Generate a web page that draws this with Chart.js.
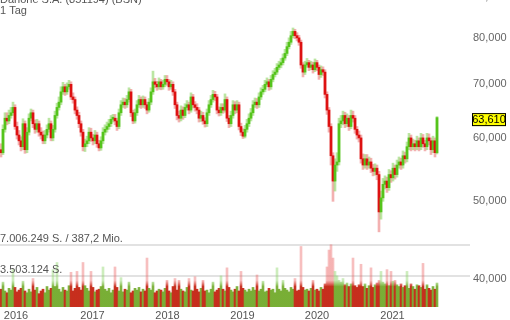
<!DOCTYPE html>
<html lang="de">
<head>
    <meta charset="UTF-8">
    <title>Danone S.A.</title>
    <script src="https://cdn.jsdelivr.net/npm/chart.js"></script>
    <style>
        body {
            margin: 0;
            background: #fff;
        }
    </style>
</head>
<body>
    <canvas id="myChart" width="510" height="320"></canvas>

    <script>
        // Schlusskurse (EUR), ca. alle 10 Tage
        const closes = [
            57.5, 61.5, 63.5, 63, 64, 64.5, 65.5, 62, 60.5, 59.5,
            58.5, 62.5, 58, 61, 63.5, 64.5, 62.5, 61.5, 62.5, 61,
            60.5, 59.5, 60.5, 61.5, 62.5, 60, 61.5, 64, 65.5, 66.5,
            68.5, 69.5, 68.5, 69.5, 70, 67.5, 67, 65, 64, 62.5,
            61, 58.5, 59, 59.5, 61, 60, 59.5, 60.5, 59, 58.3,
            59.5, 61, 61.5, 62, 62.5, 63.3, 63.5, 63, 62, 64.5,
            66, 66.5, 66, 67, 68.5, 64.5, 63, 64.5, 66, 67,
            66, 67, 66, 65, 66.5, 68.5, 70.5, 70, 69.5, 70.5,
            69.5, 70, 71, 70.5, 69.5, 70, 68.5, 66, 64, 63.5,
            65, 64, 65.5, 66, 65, 67.5, 66, 65.5, 65, 63.5,
            64, 63, 62.5, 64.5, 66, 67, 68, 67.5, 65, 64.5,
            65.5, 65, 67, 63.5, 62.5, 64, 66, 65, 66, 62,
            61, 60.3, 61.5, 62.5, 63.5, 64.5, 66, 66.5, 66, 67.5,
            68.5, 69, 70, 70.5, 69.5, 71, 72, 72.5, 73.5, 74,
            74.5, 75.5, 76.5, 78, 79, 80.5, 81.5, 80.5, 80, 79,
            74, 72.5, 74, 74.5, 73.5, 74, 73, 74.5, 73.5, 72,
            73, 72.5, 68, 65, 62, 57, 53, 55.5, 56, 62.5,
            63, 64, 62.5, 63.5, 62, 64, 63.5, 61.5, 60.5, 60,
            56.5, 55.5, 56.5, 55.5, 56, 55, 54.5, 55, 54, 48.5,
            50.5, 52.5, 53, 52, 54, 53.5, 55, 54, 55.5, 56,
            55.5, 57, 56.5, 58.5, 60, 58.5, 59, 58.5, 59.5, 58.5,
            60, 59, 58.5, 60, 59.5, 58, 59.5, 57.5, 63.61
        ];
        const firstOpen = 58;

        const highs = [
            59, 62.3, 64.5, 64.5, 65, 65.5, 66.5, 66, 62.8, 61.3,
            60.2, 63.4, 63, 61.8, 64.3, 65.2, 65, 63.2, 63.3, 63,
            61.8, 61.2, 61.3, 62.3, 63.5, 63, 62.2, 64.8, 66.3, 67.5,
            69.5, 70.4, 70, 70.3, 70.8, 70.5, 68.3, 67.5, 65.6, 64.6,
            63, 61.5, 59.8, 60.3, 61.8, 61.7, 60.6, 61.3, 61, 59.6,
            60.2, 61.8, 62.3, 62.8, 63.3, 64, 64.2, 64.2, 63.5, 65.2,
            66.8, 67.3, 67.2, 67.8, 69.3, 69, 65, 65.2, 66.8, 67.8,
            67.5, 67.7, 67.5, 66.5, 67.2, 69.3, 72.7, 71.2, 70.6, 71.3,
            71, 70.8, 71.8, 71.8, 71, 70.8, 70.5, 69, 66.5, 64.8,
            65.8, 65.6, 66.2, 66.8, 66.5, 68.3, 68, 66.6, 66.2, 65.5,
            64.8, 64.6, 63.6, 65.2, 66.8, 67.8, 68.8, 68.6, 68, 65.6,
            66.2, 66.2, 68.1, 67.5, 64, 64.8, 66.8, 66.6, 66.8, 66.5,
            62.6, 61.6, 62.2, 63.3, 64.3, 65.3, 66.8, 67.3, 67.2, 68.3,
            69.3, 69.8, 70.8, 71.3, 71, 71.8, 72.8, 73.3, 74.3, 74.8,
            75.4, 76.4, 77.4, 79, 80, 81.5, 82.3, 82, 81.2, 80.6,
            79.5, 74.5, 74.8, 75.4, 75, 74.8, 74.6, 75.3, 75, 74,
            73.8, 73.6, 73, 68.5, 65.5, 62.5, 57.5, 56.5, 57.5, 63.5,
            64, 64.8, 64.6, 64.3, 64, 65, 64.8, 64, 62, 61.2,
            60.5, 57.3, 57.2, 57.2, 56.8, 56.6, 55.6, 55.7, 55.5, 54.5,
            51.5, 53.4, 53.8, 53.6, 54.8, 54.6, 55.8, 55.5, 56.3, 56.8,
            56.6, 57.8, 57.6, 59.3, 60.8, 60.5, 59.8, 59.6, 60.3, 60,
            60.8, 60.6, 59.6, 60.8, 60.7, 60, 60.3, 60, 63.8
        ];

        const lows = [
            56.8, 57.2, 61, 62.3, 62.5, 63.5, 64, 61.5, 59.8, 58.8,
            57.8, 58, 57.4, 57.5, 60.5, 63, 61.8, 60.8, 61, 60.3,
            59.8, 59, 59, 60, 61, 59.5, 59.5, 61, 63.5, 65,
            66, 68, 67.8, 68, 69, 67, 66.3, 64.3, 63.3, 61.8,
            60.3, 57.8, 57.7, 58.5, 59, 59.4, 58.8, 59, 58.4, 57.8,
            57.9, 59, 60.5, 61, 61.5, 62, 62.8, 62.3, 61.3, 61.6,
            64, 65.5, 65.3, 65.5, 66.5, 63.8, 62.5, 62.6, 64, 65.5,
            65.3, 65.5, 65.3, 64.3, 64.6, 66, 68, 69.3, 68.8, 69,
            68.9, 69, 69.5, 69.8, 68.8, 69, 67.8, 65.3, 63.2, 62.8,
            63, 63.3, 63.6, 65, 64.3, 64.6, 65.4, 64.8, 64.3, 62.8,
            62.9, 62.4, 61.9, 62, 64, 65.5, 66.5, 66.8, 64.3, 63.9,
            64, 64.4, 64.6, 62.9, 61.8, 62, 63.5, 64.3, 64.5, 61.4,
            60.4, 59.9, 60, 61, 62, 63, 64, 65.5, 65.3, 65.5,
            67, 68, 68.5, 69.5, 68.8, 69, 70.5, 71.5, 72, 73,
            73.4, 74, 75, 76, 77.5, 78.5, 80, 79.8, 79.3, 78.3,
            73.3, 71.5, 72, 73.5, 72.8, 73, 72.3, 72.6, 72.8, 71,
            71.4, 71.8, 67.3, 64.2, 61, 55.5, 50, 51.5, 54.5, 55.5,
            61.8, 62.3, 61.8, 62, 61.3, 61.6, 62.8, 60.8, 59.8, 59.3,
            55.8, 54.8, 55, 54.8, 55, 54.3, 53.8, 53.9, 53.2, 45.8,
            47.5, 50, 51.8, 51.3, 51.6, 52.8, 53, 53.3, 53.6, 55,
            54.8, 55, 55.8, 56, 58, 57.8, 58, 57.8, 58, 57.8,
            58, 58.4, 57.8, 58, 58.8, 57.2, 57.5, 56.8, 57.3
        ];

        // Volumen (Mio. Stueck)
        const volumes = [
            2.0, 2.8, 1.8, 1.6, 2.1, 1.9, 4.2, 2.2, 1.7, 1.9,
            2.1, 2.9, 1.8, 1.6, 2.0, 1.7, 3.2, 1.9, 2.2, 1.5,
            1.8, 2.0, 1.6, 2.3, 1.9, 2.1, 4.2, 2.3, 5.0, 2.0,
            1.7, 2.2, 1.9, 1.8, 2.4, 3.9, 1.8, 2.1, 4.0, 2.2,
            1.9, 5.0, 2.4, 2.1, 1.8, 4.0, 2.2, 1.7, 1.9, 2.0,
            2.3, 4.5, 2.0, 1.8, 2.1, 1.6, 1.9, 4.5, 2.2, 1.8,
            3.3, 1.7, 2.0, 1.9, 2.8, 1.6, 1.8, 2.1, 1.9, 2.2,
            1.7, 2.0, 1.8, 5.5, 2.1, 1.9, 2.8, 1.6, 1.8, 2.0,
            1.9, 1.7, 2.1, 3.0, 1.8, 1.6, 2.3, 3.2, 1.9, 3.0,
            2.0, 1.8, 1.7, 2.2, 3.2, 1.9, 1.8, 3.4, 2.0, 1.7,
            2.1, 3.0, 1.8, 1.9, 1.6, 2.0, 2.8, 1.7, 1.9, 2.1,
            3.5, 2.0, 1.8, 4.4, 2.2, 1.9, 1.7, 2.0, 2.3, 1.8,
            4.0, 2.1, 1.9, 1.7, 2.0, 1.8, 2.2, 1.9, 3.6, 1.8,
            2.0, 2.9, 1.7, 1.8, 2.1, 1.9, 2.0, 1.6, 4.4, 2.0,
            1.8, 3.0, 2.1, 1.9, 1.7, 2.2, 2.0, 3.2, 1.8, 1.9,
            6.8, 2.2, 1.9, 2.0, 1.8, 2.1, 3.0, 1.9, 2.0, 1.8,
            2.2, 2.0, 2.6, 4.5, 6.4, 7.0, 5.5, 4.0, 3.5, 3.0,
            2.8, 3.2, 2.5, 2.7, 2.3, 2.6, 5.5, 2.4, 2.2, 2.5,
            4.8, 2.3, 2.6, 2.1, 2.4, 4.4, 2.2, 2.5, 2.7, 3.0,
            4.0, 2.8, 2.6, 4.2, 2.4, 4.0, 2.9, 3.0, 2.5, 2.3,
            2.6, 2.2, 2.4, 4.0, 2.1, 2.6, 2.3, 2.0, 2.5, 2.4,
            2.2, 4.9, 2.0, 2.5, 2.1, 1.9, 2.3, 2.0, 2.7
        ];

        const yearTicks = [7.5, 45.75, 83.25, 120.75, 158, 195.75];
        const yearLabels = ['2016', '2017', '2018', '2019', '2020', '2021'];
        const priceTicks = [40, 50, 60, 70, 80, 90];
        const volLines = [3503124, 7006249];
        const volLabels = ['3.503.124 S.', '7.006.249 S. / 387,2 Mio.'];
        const title = 'Danone S.A. (851194) (BSN)';
        const subtitle = '1 Tag';

        const font = '"Liberation Sans", Arial, sans-serif';
        const openOf = i => (i ? closes[i - 1] : firstOpen);
        const isUp = i => closes[i] >= openOf(i);

        const bodyData = closes.map((c, i) => ({ x: i, y: [openOf(i), c] }));
        const wickData = closes.map((c, i) => ({ x: i, y: [lows[i], highs[i]] }));
        const volData = volumes.map((v, i) => ({ x: i, y: v * 1e6 }));

        let gradCache = null;
        function volColor(ctx) {
            const chart = ctx.chart;
            if (!chart.chartArea) return 'rgba(200,40,20,0.8)';
            if (!gradCache) {
                const s = chart.scales.vol;
                const y0 = s.getPixelForValue(0);
                const y1 = s.getPixelForValue(2.3e6);
                const y2 = s.getPixelForValue(3.0e6);
                const mk = (solid, pale) => {
                    const g = chart.ctx.createLinearGradient(0, y0, 0, y2);
                    g.addColorStop(0, solid);
                    g.addColorStop((y0 - y1) / (y0 - y2), solid);
                    g.addColorStop(1, pale);
                    return g;
                };
                gradCache = {
                    up: mk('rgba(105,165,30,0.85)', 'rgba(130,210,90,0.4)'),
                    down: mk('rgba(195,34,16,0.92)', 'rgba(235,95,95,0.4)')
                };
            }
            return isUp(ctx.dataIndex) ? gradCache.up : gradCache.down;
        }

        const overlay = {
            id: 'overlay',
            beforeDatasetsDraw(chart) {
                const c = chart.ctx;
                const a = chart.chartArea;
                const vs = chart.scales.vol;
                c.save();
                c.strokeStyle = '#e2e2e2';
                c.lineWidth = 2;
                volLines.forEach(v => {
                    const y = Math.round(vs.getPixelForValue(v));
                    c.beginPath();
                    c.moveTo(a.left, y);
                    c.lineTo(a.right, y);
                    c.stroke();
                });
                c.restore();
            },
            afterDraw(chart) {
                const c = chart.ctx;
                const vs = chart.scales.vol;
                const ps = chart.scales.y;
                c.save();
                c.font = '11px ' + font;
                c.fillStyle = '#555';
                c.textAlign = 'left';
                c.textBaseline = 'alphabetic';
                volLines.forEach((v, i) => {
                    c.fillText(volLabels[i], 0, vs.getPixelForValue(v) - 3);
                });
                c.fillText(title, 0, 3);
                c.fillText(subtitle, 0, 14);

                // letzter Kurs
                const last = closes[closes.length - 1];
                const y = ps.getPixelForValue(last) + 2;
                const x = chart.chartArea.right + 2;
                c.fillStyle = '#ffff00';
                c.fillRect(x, y - 6.5, 34, 13);
                c.strokeStyle = '#000';
                c.lineWidth = 1;
                c.strokeRect(x + 0.5, y - 6, 33, 12);
                c.fillStyle = '#000';
                c.textAlign = 'center';
                c.textBaseline = 'middle';
                c.fillText(last.toFixed(3).replace('.', ','), x + 17, y + 0.5);
                c.restore();
            }
        };

        const ctx = document.getElementById('myChart').getContext('2d');
        new Chart(ctx, {
            type: 'bar',
            data: {
                datasets: [{
                    label: 'Kurs',
                    data: bodyData,
                    yAxisID: 'y',
                    grouped: false,
                    backgroundColor: closes.map((c, i) => isUp(i) ? '#55c41c' : '#dd1111'),
                    barThickness: 2,
                    minBarLength: 2,
                    borderWidth: 0
                }, {
                    label: 'Spanne',
                    data: wickData,
                    yAxisID: 'y',
                    grouped: false,
                    backgroundColor: closes.map((c, i) => isUp(i) ? 'rgba(120,205,70,0.5)' : 'rgba(232,100,100,0.5)'),
                    barThickness: 2,
                    borderWidth: 0
                }, {
                    label: 'Volumen',
                    data: volData,
                    yAxisID: 'vol',
                    grouped: false,
                    backgroundColor: volColor,
                    barThickness: 2,
                    borderWidth: 0
                }]
            },
            options: {
                responsive: false,
                animation: false,
                layout: { padding: 0 },
                plugins: {
                    legend: { display: false },
                    tooltip: { enabled: false }
                },
                scales: {
                    x: {
                        type: 'linear',
                        offset: false,
                        min: -0.5,
                        max: 234.5,
                        grid: { display: false, drawTicks: false },
                        border: { display: false },
                        afterBuildTicks: s => { s.ticks = yearTicks.map(v => ({ value: v })); },
                        afterFit: s => { s.height = 13; s.paddingLeft = 0; s.paddingRight = 0; },
                        ticks: {
                            autoSkip: false,
                            maxRotation: 0,
                            padding: 2,
                            color: '#555',
                            font: { size: 11, family: font },
                            callback: v => yearLabels[yearTicks.indexOf(v)]
                        }
                    },
                    y: {
                        type: 'logarithmic',
                        position: 'right',
                        min: 36.9,
                        max: 89.2,
                        grid: { display: false, drawTicks: false },
                        border: { display: false },
                        afterBuildTicks: s => { s.ticks = priceTicks.map(v => ({ value: v })); },
                        afterFit: s => { s.width = 40; s.paddingTop = 0; s.paddingBottom = 0; },
                        ticks: {
                            padding: 3,
                            color: '#666',
                            font: { size: 11, family: font },
                            callback: v => v.toFixed(3).replace('.', ',')
                        }
                    },
                    vol: {
                        type: 'linear',
                        display: false,
                        min: 0,
                        max: 34.5e6
                    }
                }
            },
            plugins: [overlay]
        });
    </script>
</body>
</html>
